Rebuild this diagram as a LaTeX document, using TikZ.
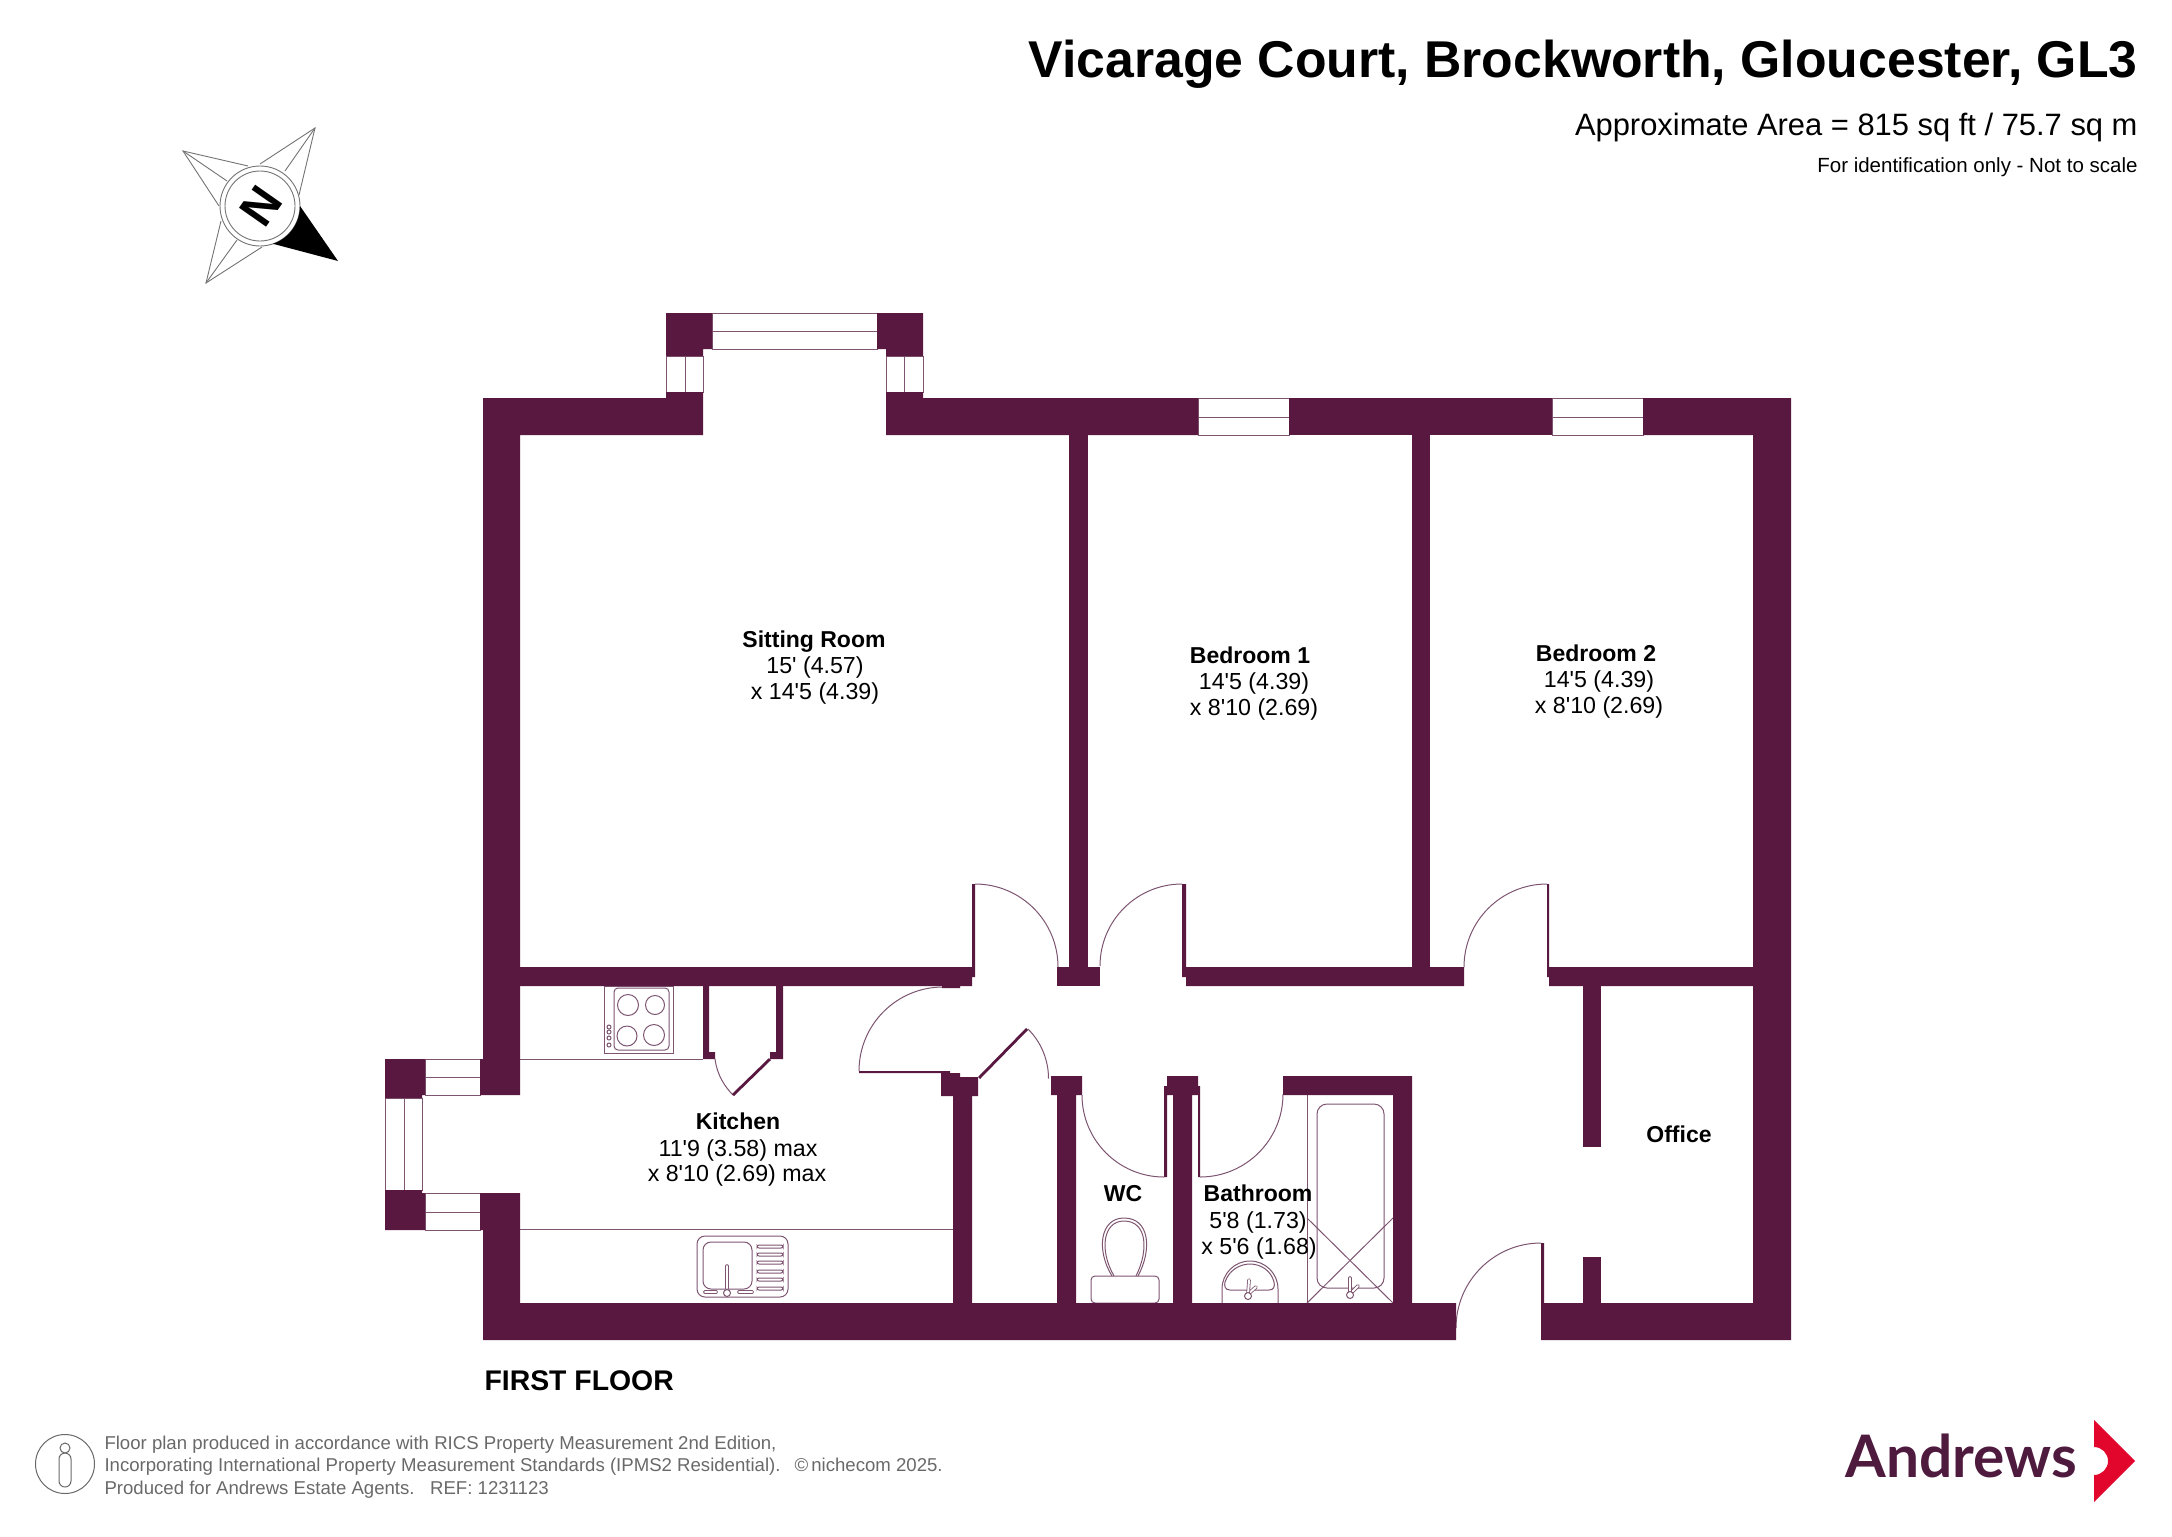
\documentclass[tikz,border=0pt]{standalone}
\usepackage{fontspec}
\newfontfamily\planfont{Liberation Sans}
\newfontfamily\logofont{Lato}
\definecolor{wallcolor}{RGB}{88,24,64}
\definecolor{linecolor}{RGB}{125,85,112}
\definecolor{compassgray}{RGB}{115,115,115}
\definecolor{footergray}{RGB}{105,105,105}
\definecolor{logopurple}{RGB}{78,26,62}
\definecolor{logored}{RGB}{226,6,44}
\tikzset{every picture/.style={line width=0.5pt}}
\tikzset{
  wall/.style={fill=wallcolor,draw=none},
  planline/.style={draw=linecolor,line width=0.5pt},
  compassline/.style={draw=compassgray,line width=0.45pt},
  tapstem/.style={draw=linecolor,line width=0.4pt,double=white,double distance=1pt,line cap=round},
  titletext/.style={font=\planfont\fontsize{25.87}{30}\selectfont\bfseries,inner sep=0pt,anchor=base east},
  areatext/.style={font=\planfont\fontsize{15.45}{18}\selectfont,inner sep=0pt,anchor=base east},
  scaletext/.style={font=\planfont\fontsize{10.25}{12}\selectfont,inner sep=0pt,anchor=base east},
  roomname/.style={font=\planfont\fontsize{11.5}{14}\selectfont\bfseries,inner sep=0pt,anchor=base},
  roomsize/.style={font=\planfont\fontsize{11.6}{14}\selectfont,inner sep=0pt,anchor=base},
  floortext/.style={font=\planfont\fontsize{14.2}{17}\selectfont\bfseries,inner sep=0pt,anchor=base west},
  footertext/.style={font=\planfont\fontsize{9.3}{11}\selectfont,text=footergray,inner sep=0pt,anchor=base west}
}

\begin{document}
\begin{tikzpicture}[x=0.5pt,y=0.5pt,yscale=-1,xscale=1]
  \useasboundingbox (0,0) rectangle (2172,1536);

  %Compass star
  \draw [compassline] (260,164) -- (315,128) -- (299,195) ;
  \draw [compassline] (285,171) -- (315,128) ;
  \draw [compassline] (248,166) -- (183,151) -- (219,206) ;
  \draw [compassline] (227,181) -- (183,151) ;
  \draw [compassline] (221,221) -- (206,283) -- (262,247) ;
  \draw [compassline] (237,240) -- (206,283) ;
  \draw [compassline] (260,206) circle [radius=40] ;
  \draw [compassline] (260,206) circle [radius=35] ;
  \fill [black] (338,261) -- (300,206) arc [start angle=0,end angle=71,radius=40] -- cycle ;
  \node [font=\planfont\fontsize{24}{28}\selectfont\bfseries,inner sep=0pt,rotate=-125] (compassN) at (261,206) {N};

  %Window lines
  \draw [planline] (712,313) rectangle (877,349) ;
  \draw [planline] (712,331) -- (877,331) ;
  \draw [planline] (666,356) rectangle (703,392) ;
  \draw [planline] (685,356) -- (685,392) ;
  \draw [planline] (886,356) rectangle (923,392) ;
  \draw [planline] (904,356) -- (904,392) ;
  \draw [planline] (1198,398) rectangle (1289,435) ;
  \draw [planline] (1198,417) -- (1289,417) ;
  \draw [planline] (1552,398) rectangle (1643,435) ;
  \draw [planline] (1552,417) -- (1643,417) ;
  \draw [planline] (425,1059) rectangle (480,1095) ;
  \draw [planline] (425,1077) -- (480,1077) ;
  \draw [planline] (425,1193) rectangle (480,1230) ;
  \draw [planline] (425,1212) -- (480,1212) ;
  \draw [planline] (385,1098) rectangle (422,1190) ;
  \draw [planline] (404,1098) -- (404,1190) ;

  %Kitchen worktops
  \draw [planline] (520,1059) -- (703,1059) ;
  \draw [planline] (520,1229) -- (953,1229) ;

  %Hob
  \draw [planline] (604,986) rectangle (673,1053) ;
  \draw [planline,rounded corners=2pt] (614,988) rectangle (669,1050) ;
  \draw [planline] (628,1005) circle [radius=10.5] ;
  \draw [planline] (655,1005) circle [radius=9.5] ;
  \draw [planline] (627,1036) circle [radius=10] ;
  \draw [planline] (654,1035) circle [radius=10.5] ;
  \draw [planline] (609,1027) circle [radius=2] ;
  \draw [planline] (609,1032) circle [radius=2] ;
  \draw [planline] (609,1038) circle [radius=2] ;
  \draw [planline] (609,1045) circle [radius=2] ;

  %Sink
  \draw [planline,rounded corners=4pt] (697,1236) rectangle (788,1297) ;
  \draw [planline,rounded corners=4pt] (703,1242) rectangle (752,1289) ;
  \draw [planline,rounded corners=1pt] (757,1245) rectangle (783,1248) ;
  \draw [planline,rounded corners=1pt] (757,1253) rectangle (783,1256) ;
  \draw [planline,rounded corners=1pt] (757,1261) rectangle (783,1264) ;
  \draw [planline,rounded corners=1pt] (757,1270) rectangle (783,1273) ;
  \draw [planline,rounded corners=1pt] (757,1278) rectangle (783,1281) ;
  \draw [planline,rounded corners=1pt] (757,1287) rectangle (783,1290) ;
  \draw [tapstem] (727,1266) -- (727,1288) ;
  \draw [planline,fill=white] (727,1293) circle [radius=3.5] ;
  \draw [tapstem] (705,1292) -- (716,1292) ;
  \draw [tapstem] (739,1292) -- (752,1292) ;

  %Door swings
  \draw [planline] (859,1071) arc [start angle=180,end angle=270,radius=84] ;
  \draw [planline] (975,884) arc [start angle=270,end angle=360,radius=83] ;
  \draw [planline] (1182,884) arc [start angle=270,end angle=180,radius=82] ;
  \draw [planline] (1547,884) arc [start angle=270,end angle=180,radius=83] ;
  \draw [planline] (1541,1243) arc [start angle=270,end angle=180,radius=85] ;
  \draw [planline] (1082,1095) arc [start angle=180,end angle=90,radius=82] ;
  \draw [planline] (1200,1177) arc [start angle=90,end angle=0,radius=83] ;
  \draw [planline] (1028,1029) arc [start angle=315,end angle=360,radius=70] ;
  \draw [planline] (715,1059) .. controls (717,1075) and (725,1087) .. (733,1095) ;

  %WC
  \draw [planline,rounded corners=2pt] (1091,1276) rectangle (1159,1303) ;
  \draw [planline] (1112,1276) .. controls (1096,1250) and (1100,1218) .. (1124,1218) .. controls (1150,1218) and (1152,1250) .. (1138,1276) ;
  \draw [planline] (1114,1276) .. controls (1099,1250) and (1103,1221) .. (1124,1221) .. controls (1147,1221) and (1149,1250) .. (1136,1276) ;

  %Basin
  \draw [planline] (1222,1303) -- (1222,1289) arc [start angle=180,end angle=360,radius=28] -- (1278,1303) ;
  \draw [planline] (1230,1290) .. controls (1225,1290) and (1224,1286) .. (1225,1282) .. controls (1229,1270) and (1240,1264) .. (1250,1264) .. controls (1260,1264) and (1271,1270) .. (1274,1282) .. controls (1275,1286) and (1274,1290) .. (1269,1290) -- cycle ;
  \draw [tapstem] (1248,1294) -- (1256,1287) ;
  \draw [tapstem] (1249,1280) -- (1248,1294) ;
  \draw [planline,fill=white] (1248,1296) circle [radius=3.5] ;

  %Bath
  \draw [planline] (1307,1095) -- (1307,1303) ;
  \draw [planline,rounded corners=5pt] (1317,1104) rectangle (1384,1288) ;
  \draw [planline] (1307,1218) -- (1393,1303) ;
  \draw [planline] (1393,1218) -- (1307,1303) ;
  \draw [tapstem] (1350,1294) -- (1358,1286) ;
  \draw [tapstem] (1350,1278) -- (1350,1294) ;
  \draw [planline,fill=white] (1350,1295) circle [radius=3.5] ;

  %Bay piers
  \fill [wall] (666,313) -- (712,313) -- (712,349) -- (703,349) -- (703,356) -- (666,356) -- cycle ;
  \fill [wall] (877,313) -- (923,313) -- (923,356) -- (886,356) -- (886,349) -- (877,349) -- cycle ;
  \fill [wall] (385,1059) -- (425,1059) -- (425,1095) -- (422,1095) -- (422,1098) -- (385,1098) -- cycle ;
  \fill [wall] (385,1190) -- (422,1190) -- (422,1193) -- (425,1193) -- (425,1230) -- (385,1230) -- cycle ;

  %Outer walls
  \fill [wall] (483,398) -- (666,398) -- (666,392) -- (703,392) -- (703,435) -- (520,435) -- (520,1095) -- (480,1095) -- (480,1059) -- (483,1059) -- cycle ;
  \fill [wall] (480,1193) -- (520,1193) -- (520,1303) -- (1456,1303) -- (1456,1340) -- (483,1340) -- (483,1230) -- (480,1230) -- cycle ;
  \fill [wall] (886,392) -- (923,392) -- (923,398) -- (1198,398) -- (1198,435) -- (886,435) -- cycle ;
  \fill [wall] (1289,398) rectangle (1552,435) ;
  \fill [wall] (1643,398) -- (1791,398) -- (1791,1340) -- (1541,1340) -- (1541,1243) -- (1544,1243) -- (1544,1303) -- (1753,1303) -- (1753,435) -- (1643,435) -- cycle ;

  %Inner walls
  \fill [wall] (520,967) -- (972,967) -- (972,884) -- (975,884) -- (975,977) -- (972,977) -- (972,986) -- (960,986) -- (960,988) -- (942,988) -- (942,986) -- (520,986) -- cycle ;
  \fill [wall] (1069,435) rectangle (1088,967) ;
  \fill [wall] (1057,967) rectangle (1100,986) ;
  \fill [wall] (1182,884) -- (1186,884) -- (1186,967) -- (1464,967) -- (1464,986) -- (1186,986) -- (1186,977) -- (1182,977) -- cycle ;
  \fill [wall] (1412,435) rectangle (1430,967) ;
  \fill [wall] (1547,884) -- (1549,884) -- (1549,967) -- (1753,967) -- (1753,986) -- (1549,986) -- (1549,977) -- (1547,977) -- cycle ;
  \fill [wall] (1583,986) rectangle (1601,1147) ;
  \fill [wall] (1583,1257) rectangle (1601,1303) ;
  \fill [wall] (859,1071) -- (950,1071) -- (950,1073) -- (960,1073) -- (960,1077) -- (978,1077) -- (978,1096) -- (972,1096) -- (972,1303) -- (953,1303) -- (953,1096) -- (941,1096) -- (941,1073) -- (859,1073) -- cycle ;
  \fill [wall] (978,1077) -- (1026,1028) -- (1028,1030) -- (980,1079) -- cycle ;
  \fill [wall] (1051,1076) -- (1082,1076) -- (1082,1095) -- (1076,1095) -- (1076,1303) -- (1057,1303) -- (1057,1095) -- (1051,1095) -- cycle ;
  \fill [wall] (1167,1076) -- (1198,1076) -- (1198,1086) -- (1200,1086) -- (1200,1177) -- (1198,1177) -- (1198,1095) -- (1192,1095) -- (1192,1303) -- (1173,1303) -- (1173,1095) -- (1167,1095) -- (1167,1177) -- (1164,1177) -- (1164,1086) -- (1167,1086) -- cycle ;
  \fill [wall] (1283,1076) -- (1412,1076) -- (1412,1303) -- (1393,1303) -- (1393,1095) -- (1283,1095) -- cycle ;
  \fill [wall] (703,986) -- (709,986) -- (709,1052) -- (715,1052) -- (715,1059) -- (703,1059) -- cycle ;
  \fill [wall] (776,986) -- (783,986) -- (783,1059) -- (770,1059) -- (770,1052) -- (776,1052) -- cycle ;
  \fill [wall] (769,1058) -- (771,1060) -- (734,1096) -- (732,1094) -- cycle ;

  % Text Node
  \node [titletext] (titleline) at (2138,78) {Vicarage Court, Brockworth, Gloucester, GL3};
  \node [areatext] (arealine) at (2138,135) {Approximate Area = 815 sq ft / 75.7 sq m};
  \node [scaletext] (scaleline) at (2138,172) {For identification only - Not to scale};
  % Text Node
  \node [roomname] (sittingname) at (814,647) {Sitting Room};
  \node [roomsize] (sittinglen) at (815,673) {15' (4.57)};
  \node [roomsize] (sittingwid) at (815,699) {x 14'5 (4.39)};
  % Text Node
  \node [roomname] (bedonename) at (1250,663) {Bedroom 1};
  \node [roomsize] (bedonelen) at (1254,689) {14'5 (4.39)};
  \node [roomsize] (bedonewid) at (1254,715) {x 8'10 (2.69)};
  % Text Node
  \node [roomname] (bedtwoname) at (1596,661) {Bedroom 2};
  \node [roomsize] (bedtwolen) at (1599,687) {14'5 (4.39)};
  \node [roomsize] (bedtwowid) at (1599,713) {x 8'10 (2.69)};
  % Text Node
  \node [roomname] (kitchenname) at (738,1129) {Kitchen};
  \node [roomsize] (kitchenlen) at (738,1156) {11'9 (3.58) max};
  \node [roomsize] (kitchenwid) at (737,1181) {x 8'10 (2.69) max};
  % Text Node
  \node [roomname] (wcname) at (1123,1201) {WC};
  \node [roomname] (bathname) at (1258,1201) {Bathroom};
  \node [roomsize] (bathlen) at (1258,1228) {5'8 (1.73)};
  \node [roomsize] (bathwid) at (1259,1254) {x 5'6 (1.68)};
  \node [roomname] (officename) at (1679,1142) {Office};
  % Text Node
  \node [floortext] (floorname) at (484,1390) {FIRST FLOOR};

  %Person icon
  \draw [draw=footergray] (65,1464) circle [radius=29.5] ;
  \draw [draw=footergray] (65,1448) circle [radius=5] ;
  \draw [draw=footergray,rounded corners=3pt] (59,1453) rectangle (71,1487) ;

  % Text Node
  \node [footertext] (footerone) at (104,1449) {Floor plan produced in accordance with RICS Property Measurement 2nd Edition,};
  \node [footertext] (footertwo) at (104,1471) {Incorporating International Property Measurement Standards (IPMS2 Residential).};
  \node [footertext] (footercopy) at (794,1471) {©\,nichecom 2025.};
  \node [footertext] (footerthree) at (104,1494) {Produced for Andrews Estate Agents.\ \ \ REF: 1231123};

  %Logo
  \node [font=\logofont\fontsize{29.3}{35}\selectfont\bfseries,text=logopurple,inner sep=0pt,anchor=base west] (logoname) at (1845,1477) {Andrews};
  \fill [logored] (2094,1420) -- (2135,1461) -- (2094,1502) -- (2094,1475) arc [start angle=90,end angle=-90,radius=14] -- cycle ;
\end{tikzpicture}
\end{document}
